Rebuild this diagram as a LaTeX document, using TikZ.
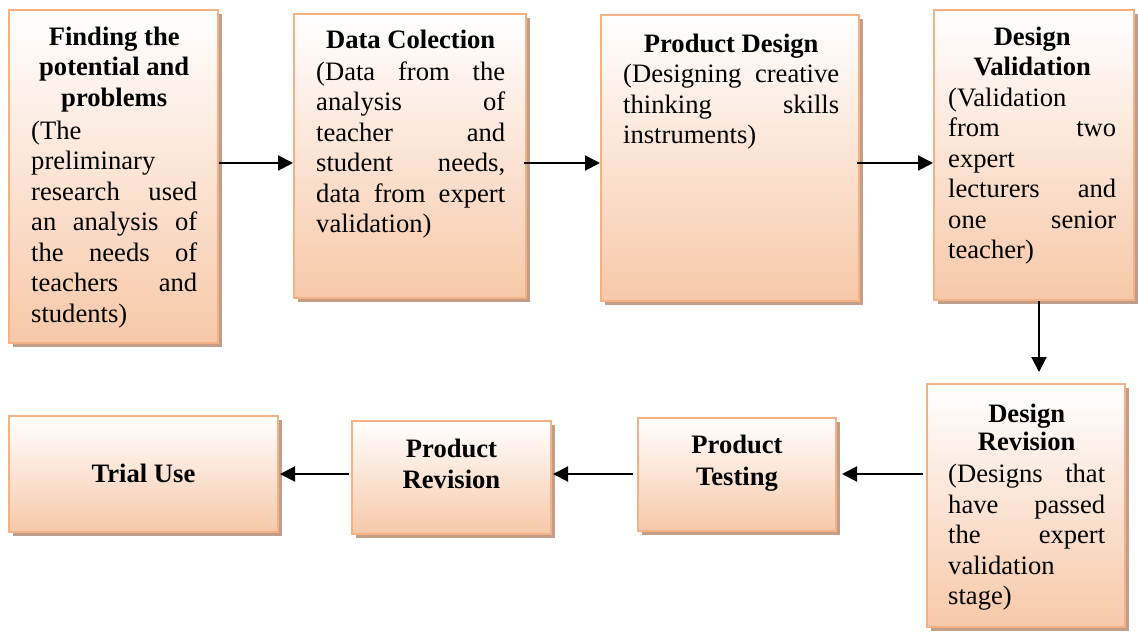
\documentclass[tikz,border=0pt]{standalone}
\usepackage{fontspec}
\setmainfont{Liberation Serif}
\usetikzlibrary{arrows.meta,shadows}
\definecolor{peach}{HTML}{F7C8A8}
\definecolor{peachborder}{HTML}{F4B183}
\definecolor{shadowc}{HTML}{C29E88}
\newcommand{\jlin}[1]{\hbox to \linewidth{#1}}
\newcommand{\llin}[1]{\hbox to \linewidth{#1\hfil}}
\newcommand{\hlin}[1]{\hbox to \linewidth{\hfil\bfseries #1\hfil}}
\newcommand{\txtsize}{\fontsize{26.6pt}{30.5pt}\selectfont}
\begin{document}
\begin{tikzpicture}[x=1pt,y=-1pt,
  box/.style={draw=peachborder, line width=2pt, shading=axis, top color=white, bottom color=peach,
    inner sep=0pt, drop shadow={shadow xshift=3.5pt, shadow yshift=-4pt, fill=shadowc, opacity=1}},
  txt/.style={anchor=base west, inner sep=0pt},
  ctxt/.style={anchor=base, inner sep=0pt, font=\txtsize\bfseries, align=center},
  arr/.style={line width=2pt, -{Triangle[length=15pt,width=15pt]}}]
\useasboundingbox (0,0) rectangle (1138,632);

% boxes
\node[box, minimum width=209pt, minimum height=333pt] (b1) at (113.5,176.5) {};
\node[box, minimum width=232pt, minimum height=284pt] (b2) at (410,156) {};
\node[box, minimum width=258pt, minimum height=286pt] (b3) at (730,158) {};
\node[box, minimum width=200pt, minimum height=290pt] (b4) at (1034,155) {};
\node[box, minimum width=198pt, minimum height=243pt] (b5) at (1026,505.5) {};
\node[box, minimum width=198pt, minimum height=113pt] (b6) at (737,474.5) {};
\node[box, minimum width=199pt, minimum height=113pt] (b7) at (451.5,477.5) {};
\node[box, minimum width=269pt, minimum height=116pt] (b8) at (143.5,474) {};

% texts
\node[txt] (t1) at (31,45) {\parbox[t]{166pt}{\txtsize
  \hlin{Finding the}\hlin{potential and}\hlin{problems}\vspace{2.5pt}
  \llin{(The}\llin{preliminary}\jlin{research used}\jlin{an analysis of}\jlin{the needs of}\jlin{teachers and}\llin{students)}}};
\node[txt] (t2) at (316,48) {\parbox[t]{189pt}{\txtsize
  \hlin{Data Colection}\vspace{1.5pt}
  \jlin{(Data from the}\jlin{analysis of}\jlin{teacher and}\jlin{student needs,}\jlin{data from expert}\llin{validation)}}};
\node[txt] (t3) at (623,52) {\parbox[t]{216pt}{\txtsize
  \hlin{Product Design}
  \jlin{(Designing creative}\jlin{thinking skills}\llin{instruments)}}};
\node[txt] (t4) at (948,45) {\parbox[t]{168pt}{\txtsize
  \hlin{Design}\hlin{Validation}
  \llin{(Validation}\jlin{from two}\llin{expert}\jlin{lecturers and}\jlin{one senior}\llin{teacher)}}};
\node[txt] (t5) at (948,422) {\parbox[t]{157pt}{\txtsize
  \hlin{Design}\vspace{-2pt}\hlin{Revision}\vspace{1.5pt}
  \jlin{(Designs that}\jlin{have passed}\jlin{the expert}\llin{validation}\llin{stage)}}};
\node[ctxt] (t6a) at (737,453) {Product};
\node[ctxt] (t6b) at (737,485) {Testing};
\node[ctxt] (t7a) at (451.5,457) {Product};
\node[ctxt] (t7b) at (451.5,488) {Revision};
\node[ctxt] (t8) at (143.5,482) {Trial Use};

% connectors
\draw[arr] (b1.east |- 0,163) -- (b2.west |- 0,163);
\draw[arr, shorten <=-3pt] (b2.east |- 0,163) -- (b3.west |- 0,163);
\draw[arr, shorten <=-3pt] (b3.east |- 0,163) -- (b4.west |- 0,163);
\draw[arr, shorten >=11pt] (b4.south -| 1039,0) -- (b5.north -| 1039,0);
\draw[arr, shorten <=3pt, shorten >=5pt] (b5.west |- 0,474) -- (b6.east |- 0,474);
\draw[arr, shorten <=4pt, shorten >=1pt] (b6.west |- 0,474) -- (b7.east |- 0,474);
\draw[arr, shorten <=2pt, shorten >=1pt] (b7.west |- 0,474) -- (b8.east |- 0,474);
\end{tikzpicture}
\end{document}
